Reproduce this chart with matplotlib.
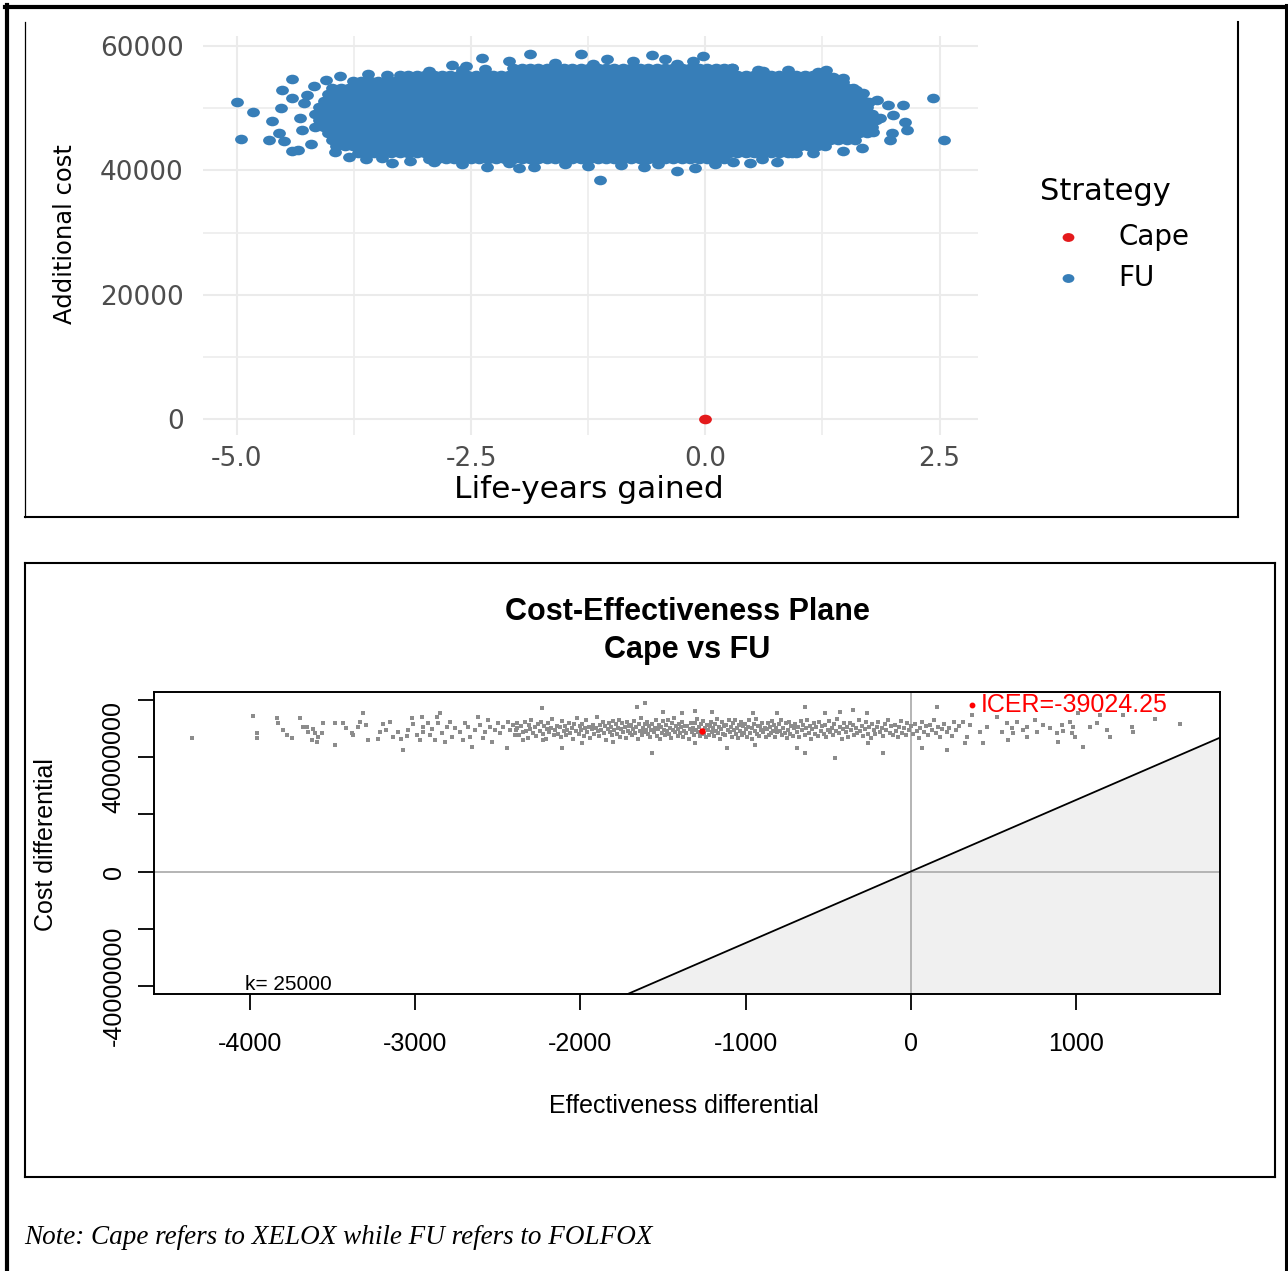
import numpy as np
import matplotlib
matplotlib.use("Agg")
import matplotlib.pyplot as plt
from matplotlib.path import Path
from matplotlib.transforms import Affine2D
from matplotlib.lines import Line2D

# ======================= DATA : top panel (ggplot) =======================
strategy_labels = ["Cape", "FU"]
strategy_colors = ["#E41A1C", "#377EB8"]

cape_ly = [0.0]
cape_cost = [0]

# FU cloud: saturated core, read as rows of points (life-years gained) at given cost
fu_row_cost = [56500, 55450, 54400, 53350, 52300, 51250, 50200, 49150,
               48100, 47050, 46000, 44950, 43900, 42850, 41800]
fu_row01 = [-2.05, -1.96, -1.87, -1.78, -1.69, -1.60, -1.51, -1.42, -1.33, -1.24, -1.15, -1.06, -0.97,
            -0.88, -0.79, -0.70, -0.61, -0.52, -0.43, -0.34, -0.25, -0.16, -0.07, 0.02, 0.11, 0.20, 0.29]
fu_row02 = [-3.26, -3.17, -3.08, -2.99, -2.90, -2.81, -2.72, -2.63, -2.54, -2.45, -2.36, -2.27, -2.18,
            -2.09, -2.00, -1.91, -1.82, -1.73, -1.64, -1.55, -1.46, -1.37, -1.28, -1.19, -1.10, -1.01,
            -0.92, -0.83, -0.74, -0.65, -0.56, -0.47, -0.38, -0.29, -0.20, -0.11, -0.02, 0.07, 0.16,
            0.25, 0.34, 0.43, 0.52, 0.61, 0.70, 0.79, 0.88, 0.97, 1.06, 1.15, 1.24]
fu_row03 = [-3.76, -3.67, -3.58, -3.49, -3.40, -3.31, -3.22, -3.13, -3.04, -2.95, -2.86, -2.77, -2.68,
            -2.59, -2.50, -2.41, -2.32, -2.23, -2.14, -2.05, -1.96, -1.87, -1.78, -1.69, -1.60, -1.51,
            -1.42, -1.33, -1.24, -1.15, -1.06, -0.97, -0.88, -0.79, -0.70, -0.61, -0.52, -0.43, -0.34,
            -0.25, -0.16, -0.07, 0.02, 0.11, 0.20, 0.29, 0.38, 0.47, 0.56, 0.65, 0.74, 0.83, 0.92, 1.01,
            1.10, 1.19, 1.28, 1.37]
fu_row04 = [-3.98, -3.89, -3.80, -3.71, -3.62, -3.53, -3.44, -3.35, -3.26, -3.17, -3.08, -2.99, -2.90,
            -2.81, -2.72, -2.63, -2.54, -2.45, -2.36, -2.27, -2.18, -2.09, -2.00, -1.91, -1.82, -1.73,
            -1.64, -1.55, -1.46, -1.37, -1.28, -1.19, -1.10, -1.01, -0.92, -0.83, -0.74, -0.65, -0.56,
            -0.47, -0.38, -0.29, -0.20, -0.11, -0.02, 0.07, 0.16, 0.25, 0.34, 0.43, 0.52, 0.61, 0.70,
            0.79, 0.88, 0.97, 1.06, 1.15, 1.24, 1.33, 1.42, 1.51]
fu_row05 = [-4.03, -3.94, -3.85, -3.76, -3.67, -3.58, -3.49, -3.40, -3.31, -3.22, -3.13, -3.04, -2.95,
            -2.86, -2.77, -2.68, -2.59, -2.50, -2.41, -2.32, -2.23, -2.14, -2.05, -1.96, -1.87, -1.78,
            -1.69, -1.60, -1.51, -1.42, -1.33, -1.24, -1.15, -1.06, -0.97, -0.88, -0.79, -0.70, -0.61,
            -0.52, -0.43, -0.34, -0.25, -0.16, -0.07, 0.02, 0.11, 0.20, 0.29, 0.38, 0.47, 0.56, 0.65,
            0.74, 0.83, 0.92, 1.01, 1.10, 1.19, 1.28, 1.37, 1.46, 1.55, 1.64]
fu_row06 = [-4.07, -3.98, -3.89, -3.80, -3.71, -3.62, -3.53, -3.44, -3.35, -3.26, -3.17, -3.08, -2.99,
            -2.90, -2.81, -2.72, -2.63, -2.54, -2.45, -2.36, -2.27, -2.18, -2.09, -2.00, -1.91, -1.82,
            -1.73, -1.64, -1.55, -1.46, -1.37, -1.28, -1.19, -1.10, -1.01, -0.92, -0.83, -0.74, -0.65,
            -0.56, -0.47, -0.38, -0.29, -0.20, -0.11, -0.02, 0.07, 0.16, 0.25, 0.34, 0.43, 0.52, 0.61,
            0.70, 0.79, 0.88, 0.97, 1.06, 1.15, 1.24, 1.33, 1.42, 1.51, 1.60, 1.69]
fu_row07 = [-4.12, -4.03, -3.94, -3.85, -3.76, -3.67, -3.58, -3.49, -3.40, -3.31, -3.22, -3.13, -3.04,
            -2.95, -2.86, -2.77, -2.68, -2.59, -2.50, -2.41, -2.32, -2.23, -2.14, -2.05, -1.96, -1.87,
            -1.78, -1.69, -1.60, -1.51, -1.42, -1.33, -1.24, -1.15, -1.06, -0.97, -0.88, -0.79, -0.70,
            -0.61, -0.52, -0.43, -0.34, -0.25, -0.16, -0.07, 0.02, 0.11, 0.20, 0.29, 0.38, 0.47, 0.56,
            0.65, 0.74, 0.83, 0.92, 1.01, 1.10, 1.19, 1.28, 1.37, 1.46, 1.55, 1.64, 1.73]
fu_row08 = [-4.16, -4.07, -3.98, -3.89, -3.80, -3.71, -3.62, -3.53, -3.44, -3.35, -3.26, -3.17, -3.08,
            -2.99, -2.90, -2.81, -2.72, -2.63, -2.54, -2.45, -2.36, -2.27, -2.18, -2.09, -2.00, -1.91,
            -1.82, -1.73, -1.64, -1.55, -1.46, -1.37, -1.28, -1.19, -1.10, -1.01, -0.92, -0.83, -0.74,
            -0.65, -0.56, -0.47, -0.38, -0.29, -0.20, -0.11, -0.02, 0.07, 0.16, 0.25, 0.34, 0.43, 0.52,
            0.61, 0.70, 0.79, 0.88, 0.97, 1.06, 1.15, 1.24, 1.33, 1.42, 1.51, 1.60, 1.69, 1.78]
fu_row09 = [-4.12, -4.03, -3.94, -3.85, -3.76, -3.67, -3.58, -3.49, -3.40, -3.31, -3.22, -3.13, -3.04,
            -2.95, -2.86, -2.77, -2.68, -2.59, -2.50, -2.41, -2.32, -2.23, -2.14, -2.05, -1.96, -1.87,
            -1.78, -1.69, -1.60, -1.51, -1.42, -1.33, -1.24, -1.15, -1.06, -0.97, -0.88, -0.79, -0.70,
            -0.61, -0.52, -0.43, -0.34, -0.25, -0.16, -0.07, 0.02, 0.11, 0.20, 0.29, 0.38, 0.47, 0.56,
            0.65, 0.74, 0.83, 0.92, 1.01, 1.10, 1.19, 1.28, 1.37, 1.46, 1.55, 1.64, 1.73, 1.82]
fu_row10 = [-4.16, -4.07, -3.98, -3.89, -3.80, -3.71, -3.62, -3.53, -3.44, -3.35, -3.26, -3.17, -3.08,
            -2.99, -2.90, -2.81, -2.72, -2.63, -2.54, -2.45, -2.36, -2.27, -2.18, -2.09, -2.00, -1.91,
            -1.82, -1.73, -1.64, -1.55, -1.46, -1.37, -1.28, -1.19, -1.10, -1.01, -0.92, -0.83, -0.74,
            -0.65, -0.56, -0.47, -0.38, -0.29, -0.20, -0.11, -0.02, 0.07, 0.16, 0.25, 0.34, 0.43, 0.52,
            0.61, 0.70, 0.79, 0.88, 0.97, 1.06, 1.15, 1.24, 1.33, 1.42, 1.51, 1.60, 1.69, 1.78]
fu_row11 = [-4.03, -3.94, -3.85, -3.76, -3.67, -3.58, -3.49, -3.40, -3.31, -3.22, -3.13, -3.04, -2.95,
            -2.86, -2.77, -2.68, -2.59, -2.50, -2.41, -2.32, -2.23, -2.14, -2.05, -1.96, -1.87, -1.78,
            -1.69, -1.60, -1.51, -1.42, -1.33, -1.24, -1.15, -1.06, -0.97, -0.88, -0.79, -0.70, -0.61,
            -0.52, -0.43, -0.34, -0.25, -0.16, -0.07, 0.02, 0.11, 0.20, 0.29, 0.38, 0.47, 0.56, 0.65,
            0.74, 0.83, 0.92, 1.01, 1.10, 1.19, 1.28, 1.37, 1.46, 1.55, 1.64, 1.73]
fu_row12 = [-3.98, -3.89, -3.80, -3.71, -3.62, -3.53, -3.44, -3.35, -3.26, -3.17, -3.08, -2.99, -2.90,
            -2.81, -2.72, -2.63, -2.54, -2.45, -2.36, -2.27, -2.18, -2.09, -2.00, -1.91, -1.82, -1.73,
            -1.64, -1.55, -1.46, -1.37, -1.28, -1.19, -1.10, -1.01, -0.92, -0.83, -0.74, -0.65, -0.56,
            -0.47, -0.38, -0.29, -0.20, -0.11, -0.02, 0.07, 0.16, 0.25, 0.34, 0.43, 0.52, 0.61, 0.70,
            0.79, 0.88, 0.97, 1.06, 1.15, 1.24, 1.33, 1.42, 1.51, 1.60]
fu_row13 = [-3.94, -3.85, -3.76, -3.67, -3.58, -3.49, -3.40, -3.31, -3.22, -3.13, -3.04, -2.95, -2.86,
            -2.77, -2.68, -2.59, -2.50, -2.41, -2.32, -2.23, -2.14, -2.05, -1.96, -1.87, -1.78, -1.69,
            -1.60, -1.51, -1.42, -1.33, -1.24, -1.15, -1.06, -0.97, -0.88, -0.79, -0.70, -0.61, -0.52,
            -0.43, -0.34, -0.25, -0.16, -0.07, 0.02, 0.11, 0.20, 0.29, 0.38, 0.47, 0.56, 0.65, 0.74,
            0.83, 0.92, 1.01, 1.10, 1.19, 1.28]
fu_row14 = [-3.71, -3.62, -3.53, -3.44, -3.35, -3.26, -3.17, -3.08, -2.99, -2.90, -2.81, -2.72, -2.63,
            -2.54, -2.45, -2.36, -2.27, -2.18, -2.09, -2.00, -1.91, -1.82, -1.73, -1.64, -1.55, -1.46,
            -1.37, -1.28, -1.19, -1.10, -1.01, -0.92, -0.83, -0.74, -0.65, -0.56, -0.47, -0.38, -0.29,
            -0.20, -0.11, -0.02, 0.07, 0.16, 0.25, 0.34, 0.43, 0.52, 0.61, 0.70, 0.79, 0.88, 0.97]
fu_row15 = [-2.95, -2.86, -2.77, -2.68, -2.59, -2.50, -2.41, -2.32, -2.23, -2.14, -2.05, -1.96, -1.87,
            -1.78, -1.69, -1.60, -1.51, -1.42, -1.33, -1.24, -1.15, -1.06, -0.97, -0.88, -0.79, -0.70,
            -0.61, -0.52, -0.43, -0.34, -0.25, -0.16, -0.07, 0.02, 0.11, 0.20]
fu_rows = [fu_row01, fu_row02, fu_row03, fu_row04, fu_row05, fu_row06, fu_row07, fu_row08,
           fu_row09, fu_row10, fu_row11, fu_row12, fu_row13, fu_row14, fu_row15]

# FU cloud: individually readable edge points and outliers (life-years, cost)
fu_edge = [(-5.00, 50960), (-4.95, 45100), (-4.83, 49440), (-4.66, 44840), (-4.62, 48000),
           (-4.55, 45970), (-4.53, 50090), (-4.52, 52940), (-4.50, 44730), (-4.41, 54700),
           (-4.41, 51600), (-4.41, 43170), (-4.35, 43280), (-4.32, 48380), (-4.30, 46500),
           (-4.28, 50800), (-4.25, 52200), (-4.21, 44250), (-4.18, 53600), (-4.05, 54500),
           (-3.90, 55200), (-3.60, 55500), (-3.40, 55300), (-3.95, 43000), (-3.80, 42200),
           (-3.62, 41800), (-3.45, 42000), (-3.34, 41140), (-3.15, 41500), (-2.90, 41300),
           (-2.60, 41000), (-2.33, 40600), (-2.10, 41200), (-1.99, 40340), (-1.83, 40500),
           (-1.50, 41000), (-1.25, 40700), (-1.12, 38450), (-0.90, 40900), (-0.65, 40500),
           (-0.50, 41000), (-0.30, 39900), (-0.11, 40340), (0.10, 41100), (0.30, 41300),
           (0.48, 41140), (0.60, 41800), (0.76, 41400), (0.92, 42750), (1.15, 42750),
           (1.47, 43120), (1.67, 43550), (1.97, 44890), (1.79, 46230), (1.99, 45970),
           (2.15, 46500), (2.13, 47740), (2.00, 48900), (1.86, 48380), (2.55, 44840),
           (1.95, 50520), (2.11, 50520), (1.75, 51050), (1.83, 51330), (2.43, 51600),
           (1.68, 52400), (1.61, 52940), (1.58, 53200), (1.47, 54270), (1.47, 54820),
           (1.36, 55080), (1.29, 56150), (0.88, 56150), (0.56, 56150), (0.28, 56430),
           (0.62, 56000), (1.20, 55900), (-2.95, 56000), (-2.60, 56100), (-2.70, 56900),
           (-2.55, 56800), (-2.38, 58130), (-2.35, 56300), (-2.10, 57600), (-1.87, 58680),
           (-1.60, 57300), (-1.33, 58680), (-1.20, 57200), (-1.05, 57920), (-0.77, 57600),
           (-0.57, 58570), (-0.43, 57920), (-0.30, 57100), (-0.13, 57600), (-0.02, 58460)]

top_x_ticks = [-5.0, -2.5, 0.0, 2.5]
top_x_ticklabels = ["-5.0", "-2.5", "0.0", "2.5"]
top_x_minor = [-3.75, -1.25, 1.25]
top_y_ticks = [0, 20000, 40000, 60000]
top_y_ticklabels = ["0", "20000", "40000", "60000"]
top_y_minor = [10000, 30000, 50000]

# ======================= DATA : bottom panel (BCEA ceplane) =======================
wtp_k = 25000
icer_de = [-1261]
icer_dc = [49209580]
icer_label = "ICER=-39024.25"

# simulations: (effectiveness differential, cost differential in millions)
ce_left = [(-4353, 46.6), (-3980, 54.4), (-3960, 48.5), (-3956, 46.6), (-3838, 53.6), (-3832, 51.8),
           (-3798, 49.5), (-3778, 47.7), (-3748, 46.6), (-3698, 53.6), (-3677, 50.6), (-3657, 50.4),
           (-3647, 48.9), (-3617, 49.7), (-3607, 48.3), (-3627, 46.0), (-3587, 47.1), (-3597, 45.4),
           (-3557, 52.0), (-3567, 48.5), (-3486, 52.0), (-3486, 44.2), (-3436, 51.8), (-3416, 50.1),
           (-3385, 48.5), (-3375, 47.7), (-3335, 52.4), (-3315, 55.5), (-3295, 51.2), (-3285, 46.0),
           (-3345, 50.6), (-3224, 46.2), (-3214, 48.9), (-3194, 51.5), (-3174, 49.5), (-3153, 52.4),
           (-3133, 47.1), (-3103, 48.9), (-3083, 46.2), (-3073, 42.5), (-3052, 47.4), (-3042, 49.5),
           (-3022, 53.6), (-3012, 51.6), (-2991, 47.7), (-2971, 46.0), (-2961, 54.1), (-2951, 50.6),
           (-2955, 48.9), (-2921, 52.0), (-2910, 47.7), (-2900, 49.7), (-2880, 46.0), (-2870, 54.1),
           (-2860, 51.8), (-2850, 55.5), (-2840, 48.5), (-2819, 45.4), (-2809, 50.6), (-2789, 52.4),
           (-2779, 47.1), (-2759, 50.1), (-2729, 48.9), (-2709, 46.0), (-2699, 51.8), (-2679, 50.6),
           (-2668, 47.1), (-2658, 43.6), (-2638, 49.5), (-2618, 54.1), (-2608, 51.2), (-2588, 46.6),
           (-2578, 48.9), (-2558, 53.0), (-2547, 50.4), (-2537, 45.4), (-2517, 49.5), (-2497, 51.8),
           (-2487, 48.3), (-2467, 50.6), (-2446, 43.1), (-2436, 52.4), (-2426, 49.5), (-2406, 51.2),
           (-2396, 47.7), (-2386, 50.1)]

ce_mid = [(-2392, 49.6), (-2381, 51.8), (-2370, 47.9), (-2362, 50.7), (-2349, 48.6), (-2338, 52.4),
          (-2331, 49.2), (-2318, 46.8), (-2309, 51.1), (-2302, 49.9),
          (-2296, 53.0), (-2287, 48.3), (-2276, 50.4), (-2268, 47.4), (-2255, 51.5), (-2247, 49.0),
          (-2236, 52.2), (-2228, 48.0), (-2219, 50.8), (-2210, 46.5), (-2203, 49.7),
          (-2195, 51.9), (-2188, 48.7), (-2179, 50.2), (-2170, 53.3), (-2161, 47.6), (-2152, 49.4),
          (-2143, 51.0), (-2135, 48.2), (-2126, 50.6), (-2117, 46.9), (-2109, 52.5), (-2102, 49.1),
          (-2096, 50.9), (-2087, 47.8), (-2079, 49.5), (-2069, 52.0), (-2061, 48.5), (-2052, 50.3),
          (-2044, 46.3), (-2036, 51.4), (-2027, 49.0), (-2018, 53.6), (-2011, 48.0), (-2003, 50.7),
          (-1996, 49.3), (-1989, 51.7), (-1980, 47.5), (-1972, 50.0), (-1965, 52.8), (-1957, 48.6),
          (-1948, 50.5), (-1940, 46.8), (-1931, 49.8), (-1923, 51.3), (-1915, 48.1), (-1907, 50.1),
          (-1901, 53.9),
          (-1895, 49.0), (-1888, 47.3), (-1881, 51.1), (-1873, 49.6), (-1866, 52.3), (-1858, 48.4),
          (-1850, 50.8), (-1843, 46.1), (-1835, 49.9), (-1828, 51.9), (-1820, 48.8), (-1812, 50.4),
          (-1806, 47.7), (-1800, 52.6),
          (-1794, 49.4), (-1787, 51.5), (-1781, 48.0), (-1774, 50.2), (-1767, 53.1), (-1760, 47.2),
          (-1753, 49.7), (-1746, 51.8), (-1739, 48.9), (-1732, 50.6), (-1725, 46.6), (-1718, 52.1),
          (-1712, 49.2), (-1706, 50.9), (-1701, 48.3),
          (-1695, 51.2), (-1689, 47.9), (-1682, 49.9), (-1675, 52.7), (-1668, 48.5), (-1661, 50.4),
          (-1654, 46.4), (-1647, 51.6), (-1641, 49.1), (-1634, 53.5), (-1627, 47.6), (-1620, 50.0),
          (-1613, 48.7), (-1607, 51.4), (-1602, 49.5),
          (-1596, 52.2), (-1590, 48.2), (-1583, 50.7), (-1577, 47.0), (-1570, 49.3), (-1564, 51.7),
          (-1557, 48.6), (-1551, 50.3), (-1544, 53.0), (-1538, 47.4), (-1531, 49.8), (-1525, 51.1),
          (-1518, 46.2), (-1512, 50.5), (-1506, 48.4), (-1501, 52.5),
          (-1495, 49.6), (-1489, 47.7), (-1482, 51.3), (-1476, 49.0), (-1469, 52.9), (-1463, 48.1),
          (-1457, 50.1), (-1450, 46.7), (-1444, 51.9), (-1438, 49.4), (-1431, 53.7), (-1425, 48.8),
          (-1419, 50.8), (-1412, 47.3), (-1406, 49.9), (-1401, 51.5),
          (-1396, 48.5), (-1390, 50.6), (-1383, 52.4), (-1377, 47.1), (-1371, 49.2), (-1364, 51.0),
          (-1358, 48.3), (-1352, 50.9), (-1345, 46.5), (-1339, 49.7), (-1333, 52.0), (-1326, 48.9),
          (-1320, 50.2), (-1314, 47.8), (-1308, 51.8), (-1302, 49.4),
          (-1296, 53.2), (-1290, 48.6), (-1284, 50.4), (-1277, 47.5), (-1271, 51.4), (-1265, 49.0),
          (-1258, 52.6), (-1252, 48.1), (-1246, 50.0), (-1240, 46.9), (-1233, 51.2), (-1227, 49.6),
          (-1221, 47.9), (-1215, 50.7), (-1208, 52.3), (-1203, 48.7),
          (-1197, 50.3), (-1191, 47.4), (-1185, 51.6), (-1178, 49.1), (-1172, 53.4), (-1166, 48.4),
          (-1160, 50.6), (-1153, 46.3), (-1147, 49.8), (-1141, 52.1), (-1134, 48.0), (-1128, 50.9),
          (-1122, 47.6), (-1116, 51.3), (-1109, 49.3), (-1103, 52.8),
          (-1097, 48.9), (-1091, 50.5), (-1084, 47.2), (-1078, 51.9), (-1072, 49.5), (-1065, 53.0),
          (-1059, 48.2), (-1053, 50.1), (-1046, 46.8), (-1040, 51.1), (-1034, 49.0), (-1027, 52.4),
          (-1021, 47.8), (-1015, 50.8), (-1009, 48.5), (-1003, 51.7),
          (-997, 49.7), (-990, 47.0), (-984, 50.4), (-977, 52.9), (-971, 48.4), (-964, 50.0),
          (-958, 46.5), (-951, 51.5), (-945, 49.2), (-938, 53.3), (-932, 48.0), (-925, 50.7),
          (-919, 47.5), (-912, 51.0), (-905, 49.4),
          (-898, 52.0), (-892, 48.7), (-885, 50.3), (-879, 46.9), (-872, 49.9), (-866, 51.8),
          (-859, 47.8), (-853, 50.6), (-846, 48.3), (-840, 52.7), (-833, 49.1), (-827, 51.2),
          (-820, 47.1), (-814, 50.0), (-807, 48.6),
          (-799, 51.4), (-792, 49.0), (-785, 53.1), (-778, 47.6), (-771, 50.2), (-764, 48.4),
          (-757, 51.9), (-750, 46.6), (-743, 49.6), (-736, 52.3), (-729, 48.1), (-722, 50.8),
          (-715, 47.4), (-708, 50.1),
          (-698, 51.6), (-690, 48.8), (-682, 50.5), (-674, 47.0), (-666, 52.5), (-658, 49.3),
          (-650, 51.1), (-642, 47.7), (-634, 50.0), (-626, 53.0), (-618, 48.5), (-610, 50.9),
          (-603, 46.4),
          (-596, 49.7), (-588, 51.8), (-579, 48.2), (-571, 50.4), (-562, 47.3), (-554, 52.2),
          (-545, 49.0), (-537, 50.7), (-528, 48.0), (-520, 51.3), (-511, 46.9), (-503, 49.5),
          (-496, 52.6), (-487, 48.6), (-479, 50.1), (-470, 47.6), (-462, 51.5), (-453, 49.2),
          (-445, 53.4), (-436, 48.3), (-428, 50.6), (-419, 46.5), (-411, 49.8), (-403, 51.9),
          (-395, 48.9), (-386, 50.5), (-377, 47.2), (-368, 52.0), (-359, 49.4), (-350, 51.2),
          (-341, 47.9), (-332, 50.2), (-323, 48.4), (-314, 52.9), (-306, 49.1),
          (-296, 51.0), (-287, 47.5), (-278, 49.9), (-269, 52.4), (-260, 48.2), (-251, 50.6),
          (-242, 46.8), (-233, 51.7), (-224, 49.3), (-215, 48.0), (-206, 50.4),
          (-196, 52.2), (-186, 48.7), (-176, 50.0), (-167, 47.3), (-157, 51.4), (-147, 49.6),
          (-138, 53.0), (-128, 48.4), (-118, 50.8), (-109, 47.8),
          (-98, 51.2), (-89, 49.2), (-79, 46.9), (-70, 50.5), (-60, 52.6), (-51, 48.5),
          (-41, 50.1), (-31, 47.6), (-21, 51.8), (-11, 49.3),
          (4, 50.7), (14, 48.1), (25, 51.5), (36, 49.0), (47, 46.6), (58, 50.3), (69, 52.4),
          (80, 48.7), (92, 50.9),
          (103, 47.7), (115, 51.1), (127, 49.5), (140, 52.8), (152, 48.3), (165, 50.5), (178, 46.9),
          (191, 49.8),
          (204, 51.7), (218, 48.6), (232, 50.2), (247, 47.4), (261, 52.1), (276, 49.4), (292, 51.0)]

ce_mid_outliers = [(-2234, 57.0), (-1659, 57.6), (-1609, 58.8), (-640, 57.6), (-2113, 43.1),
                   (-1992, 44.8), (-1569, 41.3), (-1306, 44.8), (-1114, 43.1), (-943, 44.2),
                   (-691, 43.1), (-640, 41.3), (-459, 39.6), (-348, 56.5), (-267, 55.3),
                   (-257, 44.8), (-1801, 45.4), (-2224, 46.0), (-2345, 46.0), (-1306, 56.2),
                   (-1498, 55.9), (-1387, 55.5), (-1205, 55.9), (-953, 55.5), (-812, 55.3),
                   (-519, 55.3), (-428, 55.9)]

ce_right = [(157, 57.6), (368, 54.7), (520, 54.1), (550, 48.9), (580, 51.8), (621, 48.3),
            (641, 52.4), (681, 49.5), (701, 47.1), (752, 53.0), (762, 48.9), (802, 51.2),
            (883, 48.3), (893, 45.4), (913, 51.2), (964, 52.4), (974, 48.3), (984, 50.6),
            (994, 47.1), (1044, 43.6), (1014, 55.3), (1085, 50.6), (1125, 51.8), (1145, 54.7),
            (1287, 54.7), (1337, 50.6), (1347, 48.9), (1478, 53.2), (1630, 51.5), (1186, 49.5),
            (1206, 47.1), (923, 49.2), (843, 50.1), (702, 50.6), (459, 50.6), (419, 48.9),
            (358, 51.2), (338, 47.1), (318, 52.4), (439, 44.8), (328, 44.8), (217, 42.5),
            (66, 43.1), (-166, 41.3), (590, 46.0), (611, 50.1)]

ce_x_ticks = [-4000, -3000, -2000, -1000, 0, 1000]
ce_x_ticklabels = ["-4000", "-3000", "-2000", "-1000", "0", "1000"]
ce_y_ticks = [-40e6, -20e6, 0, 20e6, 40e6, 60e6]
ce_y_ticklabels = ["-40000000", "", "0", "", "40000000", ""]

note_text = "Note: Cape refers to XELOX while FU refers to FOLFOX"

# ======================= FIGURE =======================
W, H = 1288, 1271
fig = plt.figure(figsize=(W / 100, H / 100), dpi=100)
fig.patch.set_facecolor("white")


def fx(px):
    return px / W


def fy(py):
    return 1 - py / H


# elliptical dot (the source image is stretched horizontally)
ell = Path.unit_circle().transformed(Affine2D().scale(1.0, 0.75))

# ---------------- top panel ----------------
TOPFONT = "DejaVu Sans"
ax1 = fig.add_axes([fx(203), fy(435), (978 - 203) / W, (435 - 36) / H])
ax1.set_xlim(-5.36, 2.91)
ax1.set_ylim(-2600, 61650)
ax1.set_xticks(top_x_ticks)
ax1.set_xticklabels(top_x_ticklabels)
ax1.set_xticks(top_x_minor, minor=True)
ax1.set_yticks(top_y_ticks)
ax1.set_yticklabels(top_y_ticklabels)
ax1.set_yticks(top_y_minor, minor=True)
ax1.grid(which="major", color="#EBEBEB", lw=1.5)
ax1.grid(which="minor", color="#EEEEEE", lw=1.3)
ax1.set_axisbelow(True)
for sp in ax1.spines.values():
    sp.set_visible(False)
ax1.tick_params(which="both", length=0)
ax1.tick_params(axis="y", pad=14, labelsize=19, labelcolor="#4D4D4D")
ax1.tick_params(axis="x", pad=8, labelsize=19, labelcolor="#4D4D4D")
for lab in ax1.get_xticklabels() + ax1.get_yticklabels():
    lab.set_family(TOPFONT)

fu_x = []
fu_y = []
for c, row in zip(fu_row_cost, fu_rows):
    fu_x.extend(row)
    fu_y.extend([c] * len(row))
fu_x.extend([p[0] for p in fu_edge])
fu_y.extend([p[1] for p in fu_edge])

ax1.scatter(fu_x, fu_y, s=85, marker=ell, color=strategy_colors[1], linewidths=0, zorder=3)
ax1.scatter(cape_ly, cape_cost, s=85, marker=ell, color=strategy_colors[0], linewidths=0, zorder=4)

fig.text(fx(589), fy(489), "Life-years gained", ha="center", va="center",
         fontsize=22.5, family=TOPFONT, color="black")
fig.text(fx(65), fy(234), "Additional cost", ha="center", va="center", rotation=90,
         fontsize=17.5, family=TOPFONT, color="black")

# legend
fig.text(fx(1040), fy(191), "Strategy", ha="left", va="center", fontsize=22, family=TOPFONT)
for lab, col, py in zip(strategy_labels, strategy_colors, [237, 278]):
    fig.add_artist(Line2D([fx(1068)], [fy(py)], transform=fig.transFigure, marker=ell,
                          markersize=8.5, color=col, markeredgewidth=0, linestyle="none"))
    fig.text(fx(1118), fy(py), lab, ha="left", va="center", fontsize=20, family=TOPFONT)

# ---------------- bottom panel ----------------
BF = "Liberation Sans"
ax2 = fig.add_axes([fx(154), fy(994), (1220 - 154) / W, (994 - 692) / H])
xl = (-4581, 1872)
yl = (-42.83e6, 62.76e6)
ax2.set_xlim(*xl)
ax2.set_ylim(*yl)

# cost-effective region below WTP line
x_int = yl[0] / wtp_k
xs_fill = np.array([x_int, xl[1]])
ax2.fill_between(xs_fill, yl[0], wtp_k * xs_fill, color="#F0F0F0", lw=0, zorder=1)
ax2.axhline(0, color="#B4B4B4", lw=1.4, zorder=2)
ax2.axvline(0, color="#B4B4B4", lw=1.4, zorder=2)
xs_line = np.array(xl)
ax2.plot(xs_line, wtp_k * xs_line, color="black", lw=1.3, zorder=3)

ce_all = ce_left + ce_mid + ce_mid_outliers + ce_right
ce_de = [p[0] for p in ce_all]
ce_dc = [p[1] * 1e6 for p in ce_all]
ax2.scatter(ce_de, ce_dc, marker="s", s=8, color="#8C8C8C", linewidths=0, zorder=4)
ax2.scatter(icer_de, icer_dc, marker="o", s=22, color="#FF0000", linewidths=0, zorder=5)

for sp in ax2.spines.values():
    sp.set_linewidth(1.4)
    sp.set_color("black")
ax2.set_xticks(ce_x_ticks)
ax2.set_xticklabels(ce_x_ticklabels, family=BF, fontsize=18)
ax2.set_yticks(ce_y_ticks)
ax2.set_yticklabels(ce_y_ticklabels, family=BF, fontsize=18, rotation=90, va="center")
ax2.tick_params(direction="out", length=11.5, width=1.3, color="black")
ax2.tick_params(axis="x", pad=16)
ax2.tick_params(axis="y", pad=9)

ax2.text(0.0854, 0.033, "k= 25000", transform=ax2.transAxes, ha="left", va="center",
         fontsize=15, family=BF, color="black", zorder=6)
ax2.plot([0.7674], [0.957], marker="o", markersize=3.2, color="#FF0000", transform=ax2.transAxes,
         linestyle="none", zorder=6)
ax2.text(0.7758, 0.957, icer_label, transform=ax2.transAxes, ha="left", va="center",
         fontsize=18, family=BF, color="#FF0000", zorder=6)

fig.text(fx(687), fy(612), "Cost-Effectiveness Plane", ha="center", va="center",
         fontsize=22, fontweight="bold", family=BF)
fig.text(fx(687), fy(650), "Cape vs FU", ha="center", va="center",
         fontsize=22, fontweight="bold", family=BF)
fig.text(fx(684), fy(1106), "Effectiveness differential", ha="center", va="center",
         fontsize=18, family=BF)
fig.text(fx(46), fy(845), "Cost differential", ha="center", va="center", rotation=90,
         fontsize=18, family=BF)

# ---------------- frames ----------------
def fline(xs, ys, lw):
    fig.add_artist(Line2D([fx(v) for v in xs], [fy(v) for v in ys], transform=fig.transFigure,
                          color="black", lw=lw, solid_capstyle="projecting"))

# outer frame
fline([5, 1288], [7, 7], 3.0)
fline([7, 7], [5, 1271], 3.0)
fline([1286, 1286], [5, 1271], 2.2)
# top panel frame (no top edge)
fline([24.5, 24.5], [22, 517], 0.9)
fline([24.5, 1238], [517, 517], 1.5)
fline([1238, 1238], [22, 517], 1.5)
# bottom panel frame
fline([24.5, 1275], [563, 563], 1.5)
fline([24.5, 24.5], [563, 1177], 1.5)
fline([1275, 1275], [563, 1177], 1.5)
fline([24.5, 1275], [1177, 1177], 1.5)

fig.text(fx(24), fy(1238), note_text, ha="left", va="center", fontsize=19.5,
         family="Liberation Serif", style="italic")

fig.savefig("out.png", dpi=100, facecolor="white")
